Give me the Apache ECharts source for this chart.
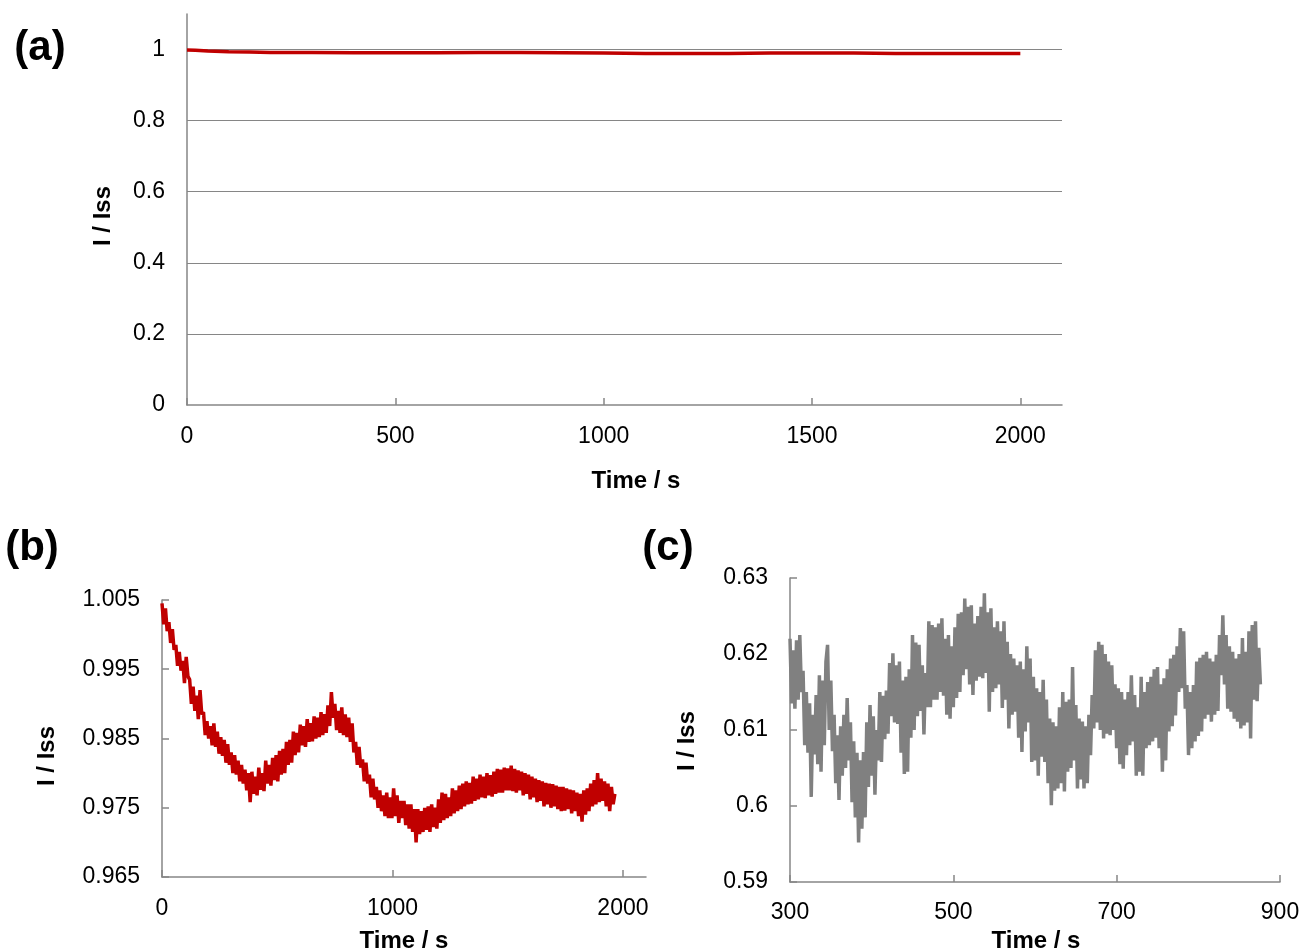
<!DOCTYPE html>
<html>
<head>
<meta charset="utf-8">
<title>I / Iss - Time</title>
<script src="https://cdn.jsdelivr.net/npm/echarts@6/dist/echarts.min.js"></script>
<style>
    html, body { margin: 0; padding: 0; background: #fff; }
    #chart { width: 1304px; height: 951px; }
</style>
</head>
<body>
<div id="chart"></div>
<script>
// (a) whole run, I / Iss vs time
var aTime = [0, 20, 50, 100, 150, 200, 300, 400, 500, 600, 700, 800, 900, 1000,
    1100, 1200, 1300, 1400, 1500, 1600, 1700, 1800, 1900, 2000];
var aCurrent = [0.999, 0.998, 0.996, 0.994, 0.993, 0.992, 0.992, 0.991, 0.991, 0.991, 0.992, 0.992,
    0.991, 0.990, 0.989, 0.989, 0.989, 0.990, 0.990, 0.990, 0.989, 0.989, 0.989, 0.989];

// (b) zoom on y, sampled every 7.5 s from 0 s (one row = 60 s)
var bStart = 0, bStep = 7.5;
var bCurrent = [
    1.0045, 1.0015, 1.0038, 1.0005, 1.0018, 0.9988, 1.0008, 0.9978,
    0.9985, 0.9955, 0.9975, 0.9948, 0.9962, 0.9930, 0.9968, 0.9940,
    0.9935, 0.9900, 0.9925, 0.9890, 0.9912, 0.9878, 0.9920, 0.9885,
    0.9888, 0.9855, 0.9875, 0.9850, 0.9868, 0.9840, 0.9872, 0.9838,
    0.9860, 0.9828, 0.9852, 0.9825, 0.9848, 0.9815, 0.9842, 0.9812,
    0.9830, 0.9800, 0.9826, 0.9798, 0.9818, 0.9788, 0.9812, 0.9785,
    0.9805, 0.9775, 0.9800, 0.9758, 0.9802, 0.9770, 0.9795, 0.9768,
    0.9808, 0.9776, 0.9800, 0.9774, 0.9818, 0.9785, 0.9812, 0.9782,
    0.9822, 0.9790, 0.9826, 0.9788, 0.9832, 0.9798, 0.9835, 0.9800,
    0.9845, 0.9812, 0.9848, 0.9815, 0.9860, 0.9826, 0.9858, 0.9830,
    0.9870, 0.9840, 0.9868, 0.9838, 0.9878, 0.9845, 0.9872, 0.9846,
    0.9882, 0.9850, 0.9880, 0.9852, 0.9888, 0.9855, 0.9885, 0.9858,
    0.9898, 0.9868, 0.9917, 0.9880, 0.9900, 0.9862, 0.9890, 0.9858,
    0.9895, 0.9855, 0.9885, 0.9852, 0.9880, 0.9845, 0.9872, 0.9830,
    0.9845, 0.9812, 0.9838, 0.9808, 0.9820, 0.9788, 0.9815, 0.9785,
    0.9798, 0.9765, 0.9792, 0.9762, 0.9780, 0.9750, 0.9775, 0.9745,
    0.9768, 0.9738, 0.9772, 0.9735, 0.9765, 0.9735, 0.9778, 0.9738,
    0.9768, 0.9728, 0.9760, 0.9735, 0.9760, 0.9725, 0.9755, 0.9720,
    0.9755, 0.9715, 0.9748, 0.9700, 0.9748, 0.9712, 0.9745, 0.9715,
    0.9750, 0.9718, 0.9752, 0.9715, 0.9755, 0.9722, 0.9750, 0.9720,
    0.9762, 0.9728, 0.9772, 0.9732, 0.9770, 0.9735, 0.9765, 0.9738,
    0.9778, 0.9742, 0.9775, 0.9745, 0.9782, 0.9748, 0.9785, 0.9752,
    0.9788, 0.9755, 0.9786, 0.9756, 0.9795, 0.9760, 0.9792, 0.9762,
    0.9798, 0.9765, 0.9795, 0.9764, 0.9800, 0.9768, 0.9797, 0.9766,
    0.9802, 0.9770, 0.9806, 0.9772, 0.9805, 0.9772, 0.9808, 0.9775,
    0.9807, 0.9775, 0.9811, 0.9774, 0.9806, 0.9772, 0.9804, 0.9775,
    0.9802, 0.9768, 0.9800, 0.9770, 0.9798, 0.9762, 0.9795, 0.9765,
    0.9792, 0.9758, 0.9790, 0.9760, 0.9788, 0.9752, 0.9786, 0.9755,
    0.9785, 0.9750, 0.9784, 0.9752, 0.9782, 0.9748, 0.9780, 0.9745,
    0.9780, 0.9746, 0.9778, 0.9748, 0.9776, 0.9742, 0.9775, 0.9745,
    0.9772, 0.9738, 0.9770, 0.9730, 0.9775, 0.9740, 0.9778, 0.9745,
    0.9785, 0.9752, 0.9790, 0.9755, 0.9800, 0.9758, 0.9792, 0.9760,
    0.9788, 0.9752, 0.9785, 0.9745, 0.9780, 0.9755, 0.9770
];

// (c) zoom on 300-880 s, sampled every 2 s from 300 s (one row = 20 s)
var cStart = 300, cStep = 2;
var cCurrent = [
    0.6220, 0.6135, 0.6205, 0.6128, 0.6218, 0.6140, 0.6225, 0.6150, 0.6178, 0.6080,
    0.6150, 0.6070, 0.6135, 0.6012, 0.6120, 0.6068, 0.6146, 0.6055, 0.6172, 0.6045,
    0.6165, 0.6080, 0.6190, 0.6212, 0.6100, 0.6165, 0.6072, 0.6120, 0.6030, 0.6093,
    0.6008, 0.6105, 0.6040, 0.6120, 0.6050, 0.6142, 0.6060, 0.6110, 0.6005, 0.6085,
    0.5985, 0.6070, 0.5952, 0.6060, 0.5970, 0.6071, 0.5985, 0.6110, 0.6025, 0.6133,
    0.6040, 0.6118, 0.6015, 0.6100, 0.6060, 0.6150, 0.6058, 0.6145, 0.6088, 0.6152,
    0.6095, 0.6188, 0.6118, 0.6201, 0.6110, 0.6185, 0.6108, 0.6190, 0.6070, 0.6165,
    0.6042, 0.6170, 0.6045, 0.6180, 0.6090, 0.6225, 0.6100, 0.6215, 0.6118, 0.6212,
    0.6125, 0.6185, 0.6094, 0.6175, 0.6130, 0.6243, 0.6130, 0.6238, 0.6140, 0.6235,
    0.6140, 0.6240, 0.6150, 0.6247, 0.6145, 0.6220, 0.6120, 0.6225, 0.6115, 0.6210,
    0.6130, 0.6235, 0.6142, 0.6253, 0.6150, 0.6255, 0.6172, 0.6273, 0.6180, 0.6262,
    0.6160, 0.6264, 0.6146, 0.6240, 0.6165, 0.6250, 0.6170, 0.6262, 0.6168, 0.6280,
    0.6175, 0.6255, 0.6124, 0.6260, 0.6150, 0.6235, 0.6155, 0.6243, 0.6160, 0.6230,
    0.6129, 0.6243, 0.6140, 0.6216, 0.6102, 0.6200, 0.6120, 0.6194, 0.6124, 0.6185,
    0.6090, 0.6190, 0.6071, 0.6180, 0.6098, 0.6210, 0.6110, 0.6194, 0.6058, 0.6170,
    0.6060, 0.6155, 0.6040, 0.6150, 0.6065, 0.6166, 0.6058, 0.6140, 0.6030, 0.6115,
    0.6001, 0.6110, 0.6020, 0.6105, 0.6023, 0.6130, 0.6030, 0.6150, 0.6019, 0.6137,
    0.6045, 0.6140, 0.6050, 0.6183, 0.6060, 0.6133, 0.6023, 0.6115, 0.6035, 0.6111,
    0.6023, 0.6105, 0.6030, 0.6120, 0.6067, 0.6146, 0.6102, 0.6205, 0.6110, 0.6216,
    0.6100, 0.6212, 0.6089, 0.6200, 0.6095, 0.6190, 0.6093, 0.6185, 0.6100, 0.6160,
    0.6076, 0.6155, 0.6055, 0.6150, 0.6049, 0.6140, 0.6067, 0.6150, 0.6080, 0.6172,
    0.6085, 0.6146, 0.6040, 0.6130, 0.6045, 0.6170, 0.6040, 0.6150, 0.6076, 0.6163,
    0.6080, 0.6170, 0.6085, 0.6180, 0.6090, 0.6183, 0.6076, 0.6160, 0.6045, 0.6168,
    0.6060, 0.6180, 0.6098, 0.6194, 0.6105, 0.6199, 0.6119, 0.6210, 0.6150, 0.6234,
    0.6155, 0.6230, 0.6128, 0.6159, 0.6067, 0.6150, 0.6076, 0.6159, 0.6085, 0.6190,
    0.6092, 0.6195, 0.6098, 0.6199, 0.6115, 0.6203, 0.6120, 0.6194, 0.6111, 0.6190,
    0.6120, 0.6199, 0.6125, 0.6225, 0.6172, 0.6251, 0.6160, 0.6225, 0.6128, 0.6210,
    0.6124, 0.6203, 0.6115, 0.6194, 0.6111, 0.6200, 0.6102, 0.6221, 0.6106, 0.6203,
    0.6110, 0.6230, 0.6089, 0.6238, 0.6140, 0.6243, 0.6138, 0.6208, 0.6160
];

// tick labels
var aTicksX = [0, 500, 1000, 1500, 2000];
var aTicksY = [0, 0.2, 0.4, 0.6, 0.8, 1];
var bTicksX = [0, 1000, 2000];
var bTicksY = [0.965, 0.975, 0.985, 0.995, 1.005];
var cTicksX = [300, 500, 700, 900];
var cTicksY = [0.59, 0.6, 0.61, 0.62, 0.63];

(function () {
    var FONT = '"Liberation Sans", Arial, sans-serif';
    var AXIS_GREY = '#868686';

    function pairs(times, values) {
        var out = [];
        for (var i = 0; i < values.length; i++) out.push([times[i], values[i]]);
        return out;
    }
    function sampled(start, step, values) {
        var out = [];
        for (var i = 0; i < values.length; i++) out.push([start + i * step, values[i]]);
        return out;
    }

    function valueAxis(gridIndex, min, max, interval, ticks, opts) {
        return {
            type: 'value',
            gridIndex: gridIndex,
            min: min,
            max: max,
            interval: interval,
            axisLine: { show: true, lineStyle: { color: AXIS_GREY, width: 1.5 } },
            axisTick: { show: opts.tick, inside: true, length: 7, customValues: ticks,
                lineStyle: { color: AXIS_GREY, width: 1.5 } },
            axisLabel: { customValues: ticks, margin: opts.margin, color: '#000',
                fontFamily: FONT, fontSize: 23,
                formatter: function (v) { return String(v); } },
            splitLine: { show: !!opts.grid, showMinLine: false, showMaxLine: true,
                lineStyle: { color: AXIS_GREY, width: 1.2 } }
        };
    }

    function label(text, x, y, size, rotate) {
        return {
            type: 'text', x: x, y: y, rotation: rotate ? Math.PI / 2 : 0,
            style: { text: text, fill: '#000', font: 'bold ' + size + 'px ' + FONT,
                align: 'center', verticalAlign: 'middle' }
        };
    }

    var chart = echarts.init(document.getElementById('chart'), null, { renderer: 'canvas' });

    chart.setOption({
        backgroundColor: '#fff',
        animation: false,
        grid: [
            { left: 187, top: 14, width: 875, height: 391, outerBoundsMode: 'none' },
            { left: 162, top: 600, width: 484, height: 277, outerBoundsMode: 'none' },
            { left: 790, top: 578, width: 490, height: 304, outerBoundsMode: 'none' }
        ],
        xAxis: [
            valueAxis(0, 0, 2100, 500, aTicksX, { tick: true, margin: 20 }),
            valueAxis(1, 0, 2100, 1000, bTicksX, { tick: true, margin: 20 }),
            valueAxis(2, 300, 900, 200, cTicksX, { tick: true, margin: 19 })
        ],
        yAxis: [
            valueAxis(0, 0, 1.1, 0.2, aTicksY, { tick: false, margin: 22, grid: true }),
            valueAxis(1, 0.965, 1.005, 0.01, bTicksY, { tick: true, margin: 22 }),
            valueAxis(2, 0.59, 0.63, 0.01, cTicksY, { tick: true, margin: 22 })
        ],
        series: [
            { type: 'line', xAxisIndex: 0, yAxisIndex: 0, data: pairs(aTime, aCurrent),
                showSymbol: false, lineStyle: { color: '#C00000', width: 3.5 } },
            { type: 'line', xAxisIndex: 1, yAxisIndex: 1, data: sampled(bStart, bStep, bCurrent),
                showSymbol: false, lineStyle: { color: '#C00000', width: 3.5 } },
            { type: 'line', xAxisIndex: 2, yAxisIndex: 2, data: sampled(cStart, cStep, cCurrent),
                showSymbol: false, lineStyle: { color: '#808080', width: 3.5 } }
        ],
        graphic: [
            label('(a)', 40, 48, 42),
            label('(b)', 32, 548, 42),
            label('(c)', 668, 548, 42),
            label('Time / s', 636, 481, 24),
            label('Time / s', 404, 941, 24),
            label('Time / s', 1036, 941, 24),
            label('I / Iss', 103, 216, 24, true),
            label('I / Iss', 47, 756, 24, true),
            label('I / Iss', 687, 741, 24, true)
        ]
    });
})();
</script>
</body>
</html>
